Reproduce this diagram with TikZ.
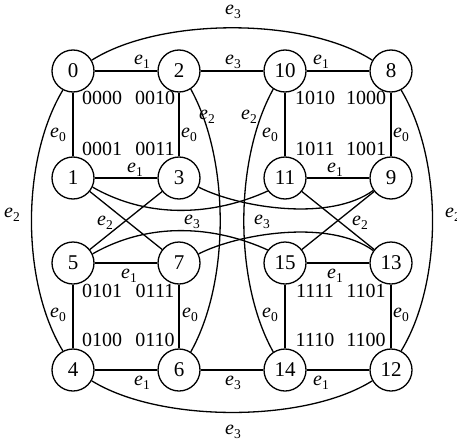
\documentclass[tikz,border=0pt]{standalone}
\usepackage{fontspec}
\setmainfont{Liberation Serif}
\newcommand\elab[1]{\textit{e}\kern0.3pt\raisebox{-4.5pt}{\fontsize{13.5}{13.5}\selectfont #1}}
\begin{document}
\begin{tikzpicture}[x=1pt,y=-1pt,
  vtx/.style={circle,draw,line width=1.3pt,minimum size=42pt,inner sep=0pt,font=\fontsize{21}{21}\selectfont},
  bin/.style={font=\fontsize{20}{20}\selectfont,inner sep=0pt},
  lab/.style={font=\fontsize{20}{20}\selectfont,inner sep=0pt},
  edge/.style={line width=1.3pt}]
\useasboundingbox (0,0) rectangle (457,444);
% vertices
\node[vtx] (n0) at (73,71) {0};
\node[vtx] (n2) at (179,71) {2};
\node[vtx] (n10) at (285,71) {10};
\node[vtx] (n8) at (391,71) {8};
\node[vtx] (n1) at (73,178) {1};
\node[vtx] (n3) at (179,178) {3};
\node[vtx] (n11) at (285,178) {11};
\node[vtx] (n9) at (391,178) {9};
\node[vtx] (n5) at (73,263) {5};
\node[vtx] (n7) at (179,263) {7};
\node[vtx] (n15) at (285,263) {15};
\node[vtx] (n13) at (391,263) {13};
\node[vtx] (n4) at (73,370) {4};
\node[vtx] (n6) at (179,370) {6};
\node[vtx] (n14) at (285,370) {14};
\node[vtx] (n12) at (391,370) {12};
% straight edges
\draw[edge] (n0) -- (n2);
\draw[edge] (n2) -- (n10);
\draw[edge] (n10) -- (n8);
\draw[edge] (n0) -- (n1);
\draw[edge] (n2) -- (n3);
\draw[edge] (n10) -- (n11);
\draw[edge] (n8) -- (n9);
\draw[edge] (n1) -- (n3);
\draw[edge] (n11) -- (n9);
\draw[edge] (n5) -- (n7);
\draw[edge] (n15) -- (n13);
\draw[edge] (n5) -- (n4);
\draw[edge] (n7) -- (n6);
\draw[edge] (n15) -- (n14);
\draw[edge] (n13) -- (n12);
\draw[edge] (n4) -- (n6);
\draw[edge] (n6) -- (n14);
\draw[edge] (n14) -- (n12);
\draw[edge] (n1) -- (n7);
\draw[edge] (n3) -- (n5);
\draw[edge] (n11) -- (n13);
\draw[edge] (n9) -- (n15);
% outer curves
\draw[edge] (n0.30) .. controls (160,17) and (305,17) .. (n8.150);
\draw[edge] (n4.-30) .. controls (160,423) and (305,423) .. (n12.-150);
\draw[edge] (n0.-118) .. controls (21,160) and (21,282) .. (n4.118);
\draw[edge] (n8.-62) .. controls (443,160) and (443,282) .. (n12.62);
% inner curves
\draw[edge] (n2.-57) .. controls (230,160) and (230,282) .. (n6.57);
\draw[edge] (n10.-123) .. controls (234,160) and (234,282) .. (n14.123);
% middle crossing curves
\draw[edge] (n1.-25) .. controls (150,220) and (215,215) .. (n11.-143);
\draw[edge] (n3.-25) .. controls (240,208) and (330,222) .. (n9.-145);
\draw[edge] (n5.25) .. controls (150,221) and (215,226) .. (n15.143);
\draw[edge] (n7.25) .. controls (240,233) and (330,219) .. (n13.145);
% edge labels
\node[lab] (l1) at (142,62) {\elab{1}};
\node[lab] (l2) at (233,62) {\elab{3}};
\node[lab] (l3) at (321,62) {\elab{1}};
\node[lab] (l4) at (233,12) {\elab{3}};
\node[lab] (l5) at (233,432) {\elab{3}};
\node[lab] (l6) at (12,215) {\elab{2}};
\node[lab] (l7) at (453,215) {\elab{2}};
\node[lab] (l8) at (58,135) {\elab{0}};
\node[lab] (l9) at (189,135) {\elab{0}};
\node[lab] (l10) at (270,135) {\elab{0}};
\node[lab] (l11) at (401,135) {\elab{0}};
\node[lab] (l12) at (207,117) {\elab{2}};
\node[lab] (l13) at (249,117) {\elab{2}};
\node[lab] (l14) at (135,170) {\elab{1}};
\node[lab] (l15) at (335,170) {\elab{1}};
\node[lab] (l16) at (105,223) {\elab{2}};
\node[lab] (l17) at (192,222) {\elab{3}};
\node[lab] (l18) at (262,222) {\elab{3}};
\node[lab] (l19) at (360,223) {\elab{2}};
\node[lab] (l20) at (129,276) {\elab{1}};
\node[lab] (l21) at (335,276) {\elab{1}};
\node[lab] (l22) at (58,315) {\elab{0}};
\node[lab] (l23) at (190,315) {\elab{0}};
\node[lab] (l24) at (270,315) {\elab{0}};
\node[lab] (l25) at (401,315) {\elab{0}};
\node[lab] (l26) at (142,383) {\elab{1}};
\node[lab] (l27) at (233,383) {\elab{3}};
\node[lab] (l28) at (321,383) {\elab{1}};
% binary labels
\node[bin] (b0) at (102,98) {0000};
\node[bin] (b2) at (155,98) {0010};
\node[bin] (b1) at (102,149) {0001};
\node[bin] (b3) at (155,149) {0011};
\node[bin] (b10) at (315,98) {1010};
\node[bin] (b8) at (366,98) {1000};
\node[bin] (b11) at (315,149) {1011};
\node[bin] (b9) at (366,149) {1001};
\node[bin] (b5) at (102,291) {0101};
\node[bin] (b7) at (155,291) {0111};
\node[bin] (b4) at (102,340) {0100};
\node[bin] (b6) at (155,340) {0110};
\node[bin] (b15) at (315,291) {1111};
\node[bin] (b13) at (366,291) {1101};
\node[bin] (b14) at (315,340) {1110};
\node[bin] (b12) at (366,340) {1100};
\end{tikzpicture}
\end{document}
